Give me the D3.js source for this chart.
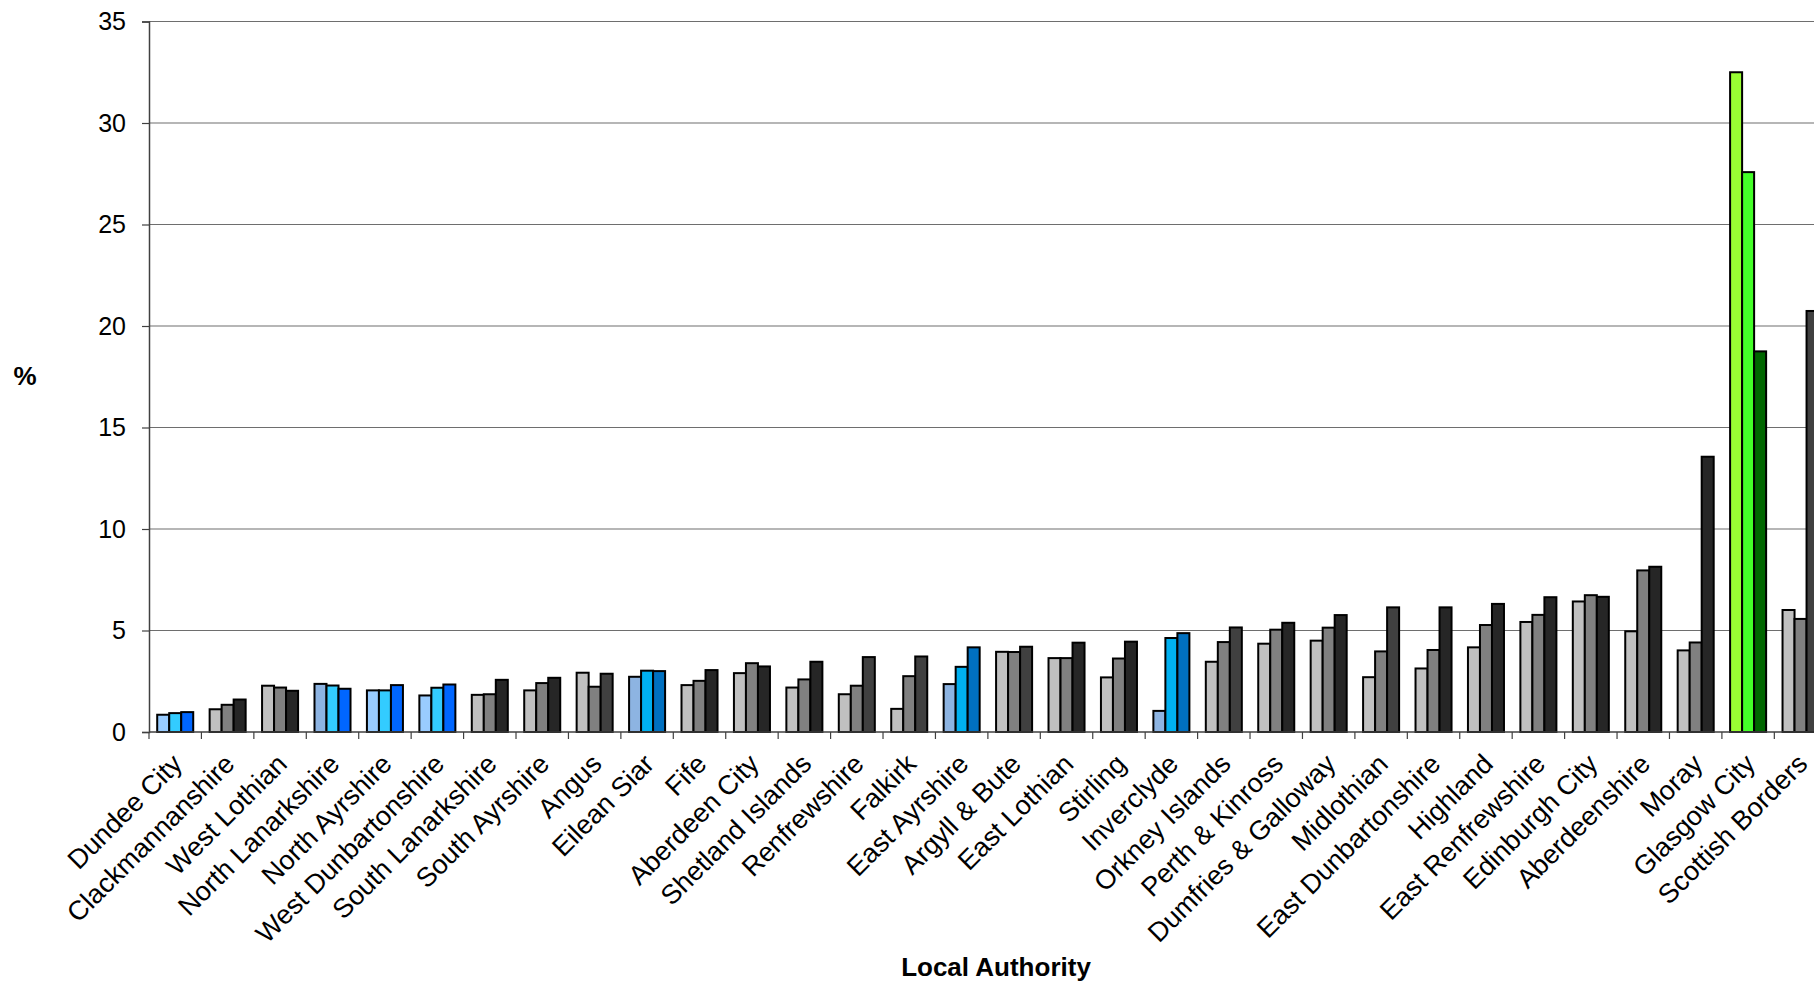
<!DOCTYPE html>
<html>
<head>
<meta charset="utf-8">
<script src="https://cdn.jsdelivr.net/npm/d3@7"></script>
<style>
  html, body { margin: 0; padding: 0; background: #fff; overflow: hidden; }
  svg { display: block; font-family: "Liberation Sans", Arial, sans-serif; }
</style>
</head>
<body>
<svg id="chart" width="1814" height="983"></svg>
<script>
// ---------- data ----------
const categories = [
  "Dundee City", "Clackmannanshire", "West Lothian", "North Lanarkshire", "North Ayrshire",
  "West Dunbartonshire", "South Lanarkshire", "South Ayrshire", "Angus", "Eilean Siar",
  "Fife", "Aberdeen City", "Shetland Islands", "Renfrewshire", "Falkirk",
  "East Ayrshire", "Argyll & Bute", "East Lothian", "Stirling", "Inverclyde",
  "Orkney Islands", "Perth & Kinross", "Dumfries & Galloway", "Midlothian", "East Dunbartonshire",
  "Highland", "East Renfrewshire", "Edinburgh City", "Aberdeenshire", "Moray",
  "Glasgow City", "Scottish Borders"
];
const series1 = [0.85, 1.12, 2.28, 2.37, 2.05, 1.80, 1.83, 2.05, 2.92, 2.72,
                 2.31, 2.90, 2.19, 1.86, 1.14, 2.36, 3.95, 3.64, 2.69, 1.04,
                 3.46, 4.35, 4.50, 2.70, 3.13, 4.17, 5.42, 6.43, 4.96, 4.02,
                 32.5, 6.01];
const series2 = [0.93, 1.34, 2.19, 2.29, 2.05, 2.18, 1.86, 2.41, 2.23, 3.02,
                 2.52, 3.39, 2.59, 2.28, 2.75, 3.21, 3.94, 3.64, 3.62, 4.63,
                 4.43, 5.04, 5.14, 3.97, 4.04, 5.27, 5.77, 6.74, 7.96, 4.41,
                 27.58, 5.57];
const series3 = [0.98, 1.60, 2.03, 2.13, 2.31, 2.34, 2.57, 2.67, 2.87, 3.00,
                 3.05, 3.23, 3.46, 3.69, 3.72, 4.17, 4.20, 4.40, 4.45, 4.87,
                 5.15, 5.38, 5.76, 6.14, 6.14, 6.31, 6.64, 6.66, 8.14, 13.56,
                 18.75, 20.74];
const yTicks = [0, 5, 10, 15, 20, 25, 30, 35];
const yLabel = "%";
const xLabel = "Local Authority";

// ---------- styles ----------
const schemeOf = ["blueA","grey","grey","blueB","blueA","blueA","grey","grey","grey","blueC",
                  "grey","grey","grey","grey","grey","blueC","grey","grey","grey","blueC",
                  "grey","grey","grey","grey","grey","grey","grey","grey","grey","grey",
                  "green","grey"];
const lightDark = new Set([8, 13, 14, 16, 20, 23, 31]);
const palettes = {
  grey:  ["#c0c0c0", "#808080", "#262626"],
  blueA: ["#99ccff", "#33ccff", "#0066ff"],
  blueB: ["#8db4e2", "#33ccff", "#0066ff"],
  blueC: ["#8db4e2", "#00b0f0", "#0070c0"],
  green: ["#99ff33", "#44ff28", "#006600"]
};
function colorFor(ci, si) {
  if (schemeOf[ci] === "grey" && si === 2 && lightDark.has(ci)) return "#404040";
  return palettes[schemeOf[ci]][si];
}

// ---------- layout ----------
const svg = d3.select("#chart");
const left = 149, y0 = 732, yTop = 21.5;
const step = 52.43;
const right = left + step * categories.length;

const x = d3.scaleBand()
  .domain(categories)
  .range([left, right])
  .paddingInner(0.313)
  .paddingOuter(0.1565);
const xs = d3.scaleBand().domain([0, 1, 2]).range([0, x.bandwidth()]);
const y = d3.scaleLinear().domain([0, 35]).range([y0, yTop]);

// gridlines
svg.append("g").selectAll("line")
  .data(yTicks.filter(t => t > 0))
  .join("line")
  .attr("x1", left).attr("x2", right)
  .attr("y1", d => y(d)).attr("y2", d => y(d))
  .attr("stroke", "#6e6e6e").attr("stroke-width", 1.2);

// bars
const rows = categories.map((c, i) => ({ c, i, vals: [series1[i], series2[i], series3[i]] }));
const groups = svg.append("g").selectAll("g")
  .data(rows).join("g")
  .attr("transform", d => `translate(${x(d.c)},0)`);
groups.selectAll("rect")
  .data(d => d.vals.map((v, si) => ({ v, si, ci: d.i })))
  .join("rect")
  .attr("x", d => xs(d.si))
  .attr("width", xs.bandwidth())
  .attr("y", d => y(d.v))
  .attr("height", d => y0 - y(d.v))
  .attr("fill", d => colorFor(d.ci, d.si))
  .attr("stroke", "#000").attr("stroke-width", 2);

// y axis
const yAxis = d3.axisLeft(y).tickValues(yTicks).tickSize(7).tickPadding(16);
const gy = svg.append("g").attr("transform", `translate(${left},0)`).call(yAxis);
gy.select(".domain").attr("stroke", "#404040").attr("stroke-width", 1.5);
gy.selectAll(".tick line").attr("stroke", "#404040").attr("stroke-width", 1.2);
gy.selectAll(".tick text").attr("font-size", 25).attr("fill", "#000")
  .attr("font-family", "Liberation Sans, Arial, sans-serif");

// x axis baseline + boundary ticks
svg.append("line").attr("x1", left).attr("x2", right)
  .attr("y1", y0).attr("y2", y0).attr("stroke", "#404040").attr("stroke-width", 1.5);
const bounds = categories.map(c => x(c) - (x.step() - x.bandwidth()) / 2);
svg.append("g").selectAll("line").data(bounds).join("line")
  .attr("x1", d => d).attr("x2", d => d)
  .attr("y1", y0).attr("y2", y0 + 7)
  .attr("stroke", "#404040").attr("stroke-width", 1.2);

// category labels
svg.append("g").selectAll("text").data(categories).join("text")
  .attr("transform", d => `translate(${x(d) + x.bandwidth() / 2 - 5},752) rotate(-45)`)
  .attr("text-anchor", "end")
  .attr("dy", "0.71em")
  .attr("font-size", 27)
  .attr("fill", "#000")
  .text(d => d);

// axis titles
svg.append("text").attr("x", 996).attr("y", 976)
  .attr("text-anchor", "middle").attr("font-size", 26).attr("font-weight", "bold")
  .text(xLabel);
svg.append("text").attr("x", 25).attr("y", 385)
  .attr("text-anchor", "middle").attr("font-size", 26).attr("font-weight", "bold")
  .text(yLabel);
</script>
</body>
</html>
